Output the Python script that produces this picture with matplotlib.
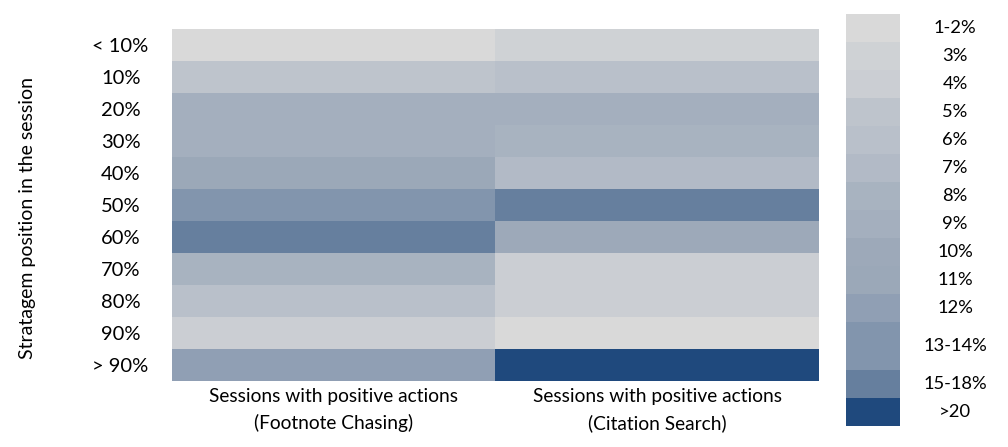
import matplotlib
matplotlib.use("Agg")
import matplotlib.pyplot as plt
import numpy as np
from matplotlib.colors import ListedColormap, BoundaryNorm

plt.rcParams['font.family'] = ['Lato', 'DejaVu Sans']

rows = ["< 10%", "10%", "20%", "30%", "40%", "50%", "60%", "70%", "80%", "90%", "> 90%"]
columns = ["Sessions with positive actions\n(Footnote Chasing)",
           "Sessions with positive actions\n(Citation Search)"]
footnote = [1.5, 5, 8.5, 9, 11, 13.5, 16, 8, 6, 4, 12]
citation = [3, 6, 9, 7.5, 7, 16, 10, 3.5, 4, 1.5, 22]

legend_labels = ["1-2%", "3%", "4%", "5%", "6%", "7%", "8%", "9%", "10%", "11%", "12%",
                 "13-14%", "15-18%", ">20"]
legend_bounds = [0.5, 2.5, 3.5, 4.5, 5.5, 6.5, 7.5, 8.5, 9.5, 10.5, 11.5, 12.5, 14.5, 18.5, 30]
legend_units = [1, 1, 1, 1, 1, 1, 1, 1, 1, 1, 1, 1.7, 1, 1]
legend_colors = ["#D9D9D9", "#CFD2D5", "#CBCED3", "#BEC4CC", "#B9C0CA", "#B2BAC6",
                 "#A8B3C0", "#A4AFBE", "#9DA9B9", "#9BA8B8", "#909FB4", "#8295AD",
                 "#667F9E", "#1F497D"]

cmap = ListedColormap(legend_colors)
norm = BoundaryNorm(legend_bounds, cmap.N)

fig = plt.figure(figsize=(10.08, 4.47), dpi=100)
W, H = 1008, 447
ax = fig.add_axes([172 / W, 1 - 381 / H, (819 - 172) / W, (381 - 29) / H])
data = np.array([footnote, citation]).T
ax.imshow(data, cmap=cmap, norm=norm, aspect='auto', interpolation='nearest')
ax.set_yticks(range(len(rows)))
ax.set_yticklabels(rows, fontsize=14.5, ha='center')
ax.tick_params(axis='y', length=0, pad=37)
ax.set_xticks(range(len(columns)))
ax.set_xticklabels(columns, fontsize=13.8, linespacing=1.6)
ax.tick_params(axis='x', length=0, pad=5)
for s in ax.spines.values():
    s.set_visible(False)
fig.text(28 / W, 1 - 218 / H, "Stratagem position in the session", rotation=90,
         ha='center', va='center', fontsize=14)

# legend bar
lax = fig.add_axes([846 / W, 1 - 426 / H, (900 - 846) / W, (426 - 14) / H])
total = sum(legend_units)
bottoms = total - np.cumsum(legend_units)
lax.bar(np.zeros(len(legend_units)), legend_units, bottom=bottoms, width=1.0,
        color=legend_colors, linewidth=0)
lax.set_xlim(-0.5, 0.5)
lax.set_ylim(0, total)
lax.axis('off')
for lab, b, u in zip(legend_labels, bottoms, legend_units):
    lax.text(1.52, b + u / 2, lab, ha='center', va='center', fontsize=13.2,
             transform=lax.transData)

fig.savefig("out.png", dpi=100)
